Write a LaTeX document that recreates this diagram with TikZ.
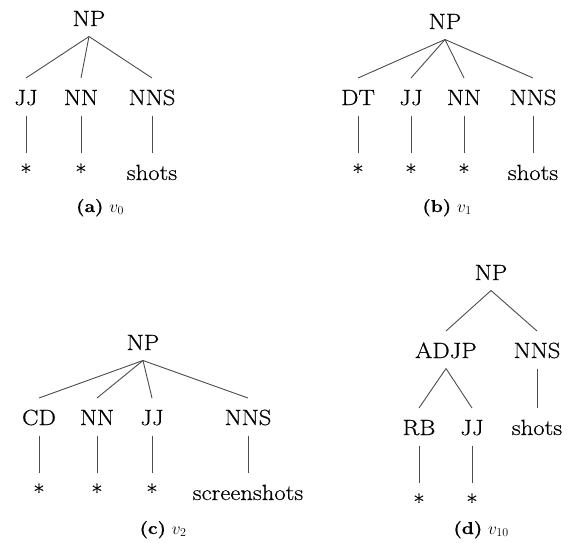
\documentclass[tikz,border=0pt]{standalone}
\usepackage{fontspec}
\setmainfont{Latin Modern Roman}[FakeStretch=1.12, FakeBold=0.5]
\newcommand{\tagfont}{\fontsize{22}{26}\selectfont}
\newcommand{\capfont}{\fontsize{17.28}{22}\selectfont}
\tikzset{
	tag/.style={anchor=base, inner sep=0pt, outer ysep=10.5pt, text height=16.5pt, text depth=-1.5pt, font=\tagfont},
	subcaption/.style={anchor=base, inner sep=0pt, font=\capfont},
	branch/.style={line width=0.9pt, color=black!70}
}

\begin{document}
\begin{tikzpicture}[x=1pt, y=-1pt]
			\useasboundingbox (0, 0) rectangle (571, 542);
			%%%%% (a) %%%%%
			
			\node[tag] (npA) at (89, 26) {NP};
			\node[tag] (jjA) at (26, 105) {JJ};
			\node[tag] (nnA) at (81, 105) {NN};
			\node[tag] (nnsA) at (152, 105) {NNS};
			\node[tag] (wA1) at (26, 180) {*};
			\node[tag] (wA2) at (81, 180) {*};
			\node[tag] (wA3) at (152, 180) {shots};
			
			\draw[branch] (npA.south) -- (jjA.north);
			\draw[branch] (npA.south) -- (nnA.north);
			\draw[branch] (npA.south) -- (nnsA.north);
			\draw[branch] (jjA.south) -- (wA1.north);
			\draw[branch] (nnA.south) -- (wA2.north);
			\draw[branch] (nnsA.south) -- (wA3.north);
			
			\node[subcaption] (capA) at (100, 212) {\textbf{(a)} $v_0$};
			
			%%%%% (b) %%%%%
			
			\node[tag] (npB) at (445, 29) {NP};
			\node[tag] (dtB) at (358, 105) {DT};
			\node[tag] (jjB) at (411, 105) {JJ};
			\node[tag] (nnB) at (464, 105) {NN};
			\node[tag] (nnsB) at (533, 105) {NNS};
			\node[tag] (wB1) at (358, 180) {*};
			\node[tag] (wB2) at (411, 180) {*};
			\node[tag] (wB3) at (464, 180) {*};
			\node[tag] (wB4) at (533, 180) {shots};
			
			\draw[branch] (npB.south) -- (dtB.north);
			\draw[branch] (npB.south) -- (jjB.north);
			\draw[branch] (npB.south) -- (nnB.north);
			\draw[branch] (npB.south) -- (nnsB.north);
			\draw[branch] (dtB.south) -- (wB1.north);
			\draw[branch] (jjB.south) -- (wB2.north);
			\draw[branch] (nnB.south) -- (wB3.north);
			\draw[branch] (nnsB.south) -- (wB4.north);
			
			\node[subcaption] (capB) at (447, 212) {\textbf{(b)} $v_1$};
			
			%%%%% (c) %%%%%
			
			\node[tag] (npC) at (143, 350) {NP};
			\node[tag] (cdC) at (39, 425) {CD};
			\node[tag] (nnC) at (97, 425) {NN};
			\node[tag] (jjC) at (152, 425) {JJ};
			\node[tag] (nnsC) at (248, 425) {NNS};
			\node[tag] (wC1) at (39, 500) {*};
			\node[tag] (wC2) at (97, 500) {*};
			\node[tag] (wC3) at (152, 500) {*};
			\node[tag] (wC4) at (248, 500) {screenshots};
			
			\draw[branch] (npC.south) -- (cdC.north);
			\draw[branch] (npC.south) -- (nnC.north);
			\draw[branch] (npC.south) -- (jjC.north);
			\draw[branch] (npC.south) -- (nnsC.north);
			\draw[branch] (cdC.south) -- (wC1.north);
			\draw[branch] (nnC.south) -- (wC2.north);
			\draw[branch] (jjC.south) -- (wC3.north);
			\draw[branch] (nnsC.south) -- (wC4.north);
			
			\node[subcaption] (capC) at (163, 534) {\textbf{(c)} $v_2$};
			
			%%%%% (d) %%%%%
			
			\node[tag] (npD) at (491, 280) {NP};
			\node[tag] (adjpD) at (446, 358) {ADJP};
			\node[tag] (nnsD) at (537, 358) {NNS};
			\node[tag] (rbD) at (419, 435) {RB};
			\node[tag] (jjD) at (472, 435) {JJ};
			\node[tag] (wD3) at (537, 435) {shots};
			\node[tag] (wD1) at (419, 510) {*};
			\node[tag] (wD2) at (472, 510) {*};
			
			\draw[branch] (npD.south) -- (adjpD.north);
			\draw[branch] (npD.south) -- (nnsD.north);
			\draw[branch] (adjpD.south) -- (rbD.north);
			\draw[branch] (adjpD.south) -- (jjD.north);
			\draw[branch] (nnsD.south) -- (wD3.north);
			\draw[branch] (rbD.south) -- (wD1.north);
			\draw[branch] (jjD.south) -- (wD2.north);
			
			\node[subcaption] (capD) at (481, 534) {\textbf{(d)} $v_{10}$};
			
			%%%%% END %%%%%
\end{tikzpicture}
\end{document}
